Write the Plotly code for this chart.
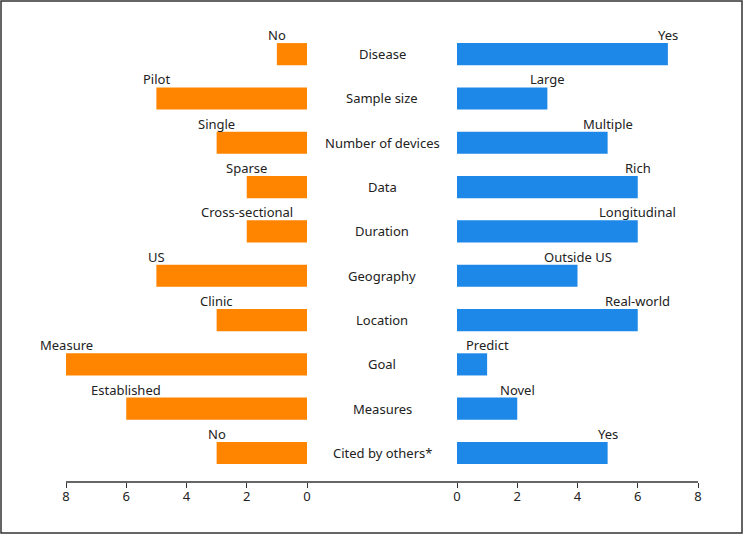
import plotly.graph_objects as go

categories = ["Disease", "Sample size", "Number of devices", "Data", "Duration",
              "Geography", "Location", "Goal", "Measures", "Cited by others*"]
left_values = [1, 5, 3, 2, 2, 5, 3, 8, 6, 3]
left_labels = ["No", "Pilot", "Single", "Sparse", "Cross-sectional", "US",
               "Clinic", "Measure", "Established", "No"]
right_values = [7, 3, 5, 6, 6, 4, 6, 1, 2, 5]
right_labels = ["Yes", "Large", "Multiple", "Rich", "Longitudinal", "Outside US",
                "Real-world", "Predict", "Novel", "Yes"]
x_ticks = [0, 2, 4, 6, 8]

W, H = 743, 534
ML, MR, MT, MB = 66, 45, 32, 52
pw = W - ML - MR
ph = H - MT - MB
left_dom = [0, (307 - ML) / pw]
right_dom = [(457 - ML) / pw, 1]

ORANGE = "#ff8500"
BLUE = "#1e88e8"
TXT = "#222222"
FONT = "Noto Sans"
FS = 13

fig = go.Figure()
fig.add_trace(go.Bar(y=categories, x=left_values, orientation="h",
                     marker=dict(color=ORANGE, line=dict(width=0)),
                     width=0.5, xaxis="x", yaxis="y", showlegend=False,
                     hoverinfo="skip"))
fig.add_trace(go.Bar(y=categories, x=right_values, orientation="h",
                     marker=dict(color=BLUE, line=dict(width=0)),
                     width=0.5, xaxis="x2", yaxis="y2", showlegend=False,
                     hoverinfo="skip"))

annotations = []
for c, v, t in zip(categories, left_values, left_labels):
    annotations.append(dict(x=v, y=c, xref="x", yref="y", text=t,
                            showarrow=False, xanchor="center", yanchor="bottom",
                            yshift=8, font=dict(family=FONT, size=FS, color=TXT)))
for c, v, t in zip(categories, right_values, right_labels):
    annotations.append(dict(x=v, y=c, xref="x2", yref="y2", text=t,
                            showarrow=False, xanchor="center", yanchor="bottom",
                            yshift=8, font=dict(family=FONT, size=FS, color=TXT)))
for c in categories:
    annotations.append(dict(x=0.5, y=c, xref="paper", yref="y", text=c,
                            showarrow=False, xanchor="center", yanchor="middle",
                            font=dict(family=FONT, size=FS, color=TXT)))

yr = [9.654, -0.5]
axis_common = dict(tickvals=x_ticks, ticks="outside", ticklen=5, tickcolor="#333",
                   ticklabelstandoff=-3,
                   showline=False, showgrid=False, zeroline=False,
                   tickfont=dict(family=FONT, size=FS, color=TXT))

fig.update_layout(
    width=W, height=H,
    margin=dict(l=ML, r=MR, t=MT, b=MB),
    paper_bgcolor="white", plot_bgcolor="white",
    xaxis=dict(domain=left_dom, range=[8, 0], anchor="y", **axis_common),
    xaxis2=dict(domain=right_dom, range=[0, 8], anchor="y2", **axis_common),
    yaxis=dict(domain=[0, 1], range=yr, showticklabels=False, ticks="",
               showgrid=False, zeroline=False, showline=False, anchor="x"),
    yaxis2=dict(domain=[0, 1], range=yr, showticklabels=False, ticks="",
                showgrid=False, zeroline=False, showline=False, anchor="x2"),
    annotations=annotations,
    shapes=[
        dict(type="line", xref="paper", yref="paper", x0=left_dom[0], x1=right_dom[1],
             y0=0, y1=0, line=dict(color="#333", width=1.3)),
        dict(type="rect", xref="paper", yref="paper",
             x0=(1 - ML) / pw, x1=(W - 1 - ML) / pw,
             y0=-(MB - 1) / ph, y1=(H - 1 - MB) / ph,
             line=dict(color="#333", width=1.5), fillcolor="rgba(0,0,0,0)"),
    ],
)

fig.write_html("out.html", config={"displayModeBar": False},
               post_script="document.body.style.margin='0';document.body.style.overflow='hidden';")
